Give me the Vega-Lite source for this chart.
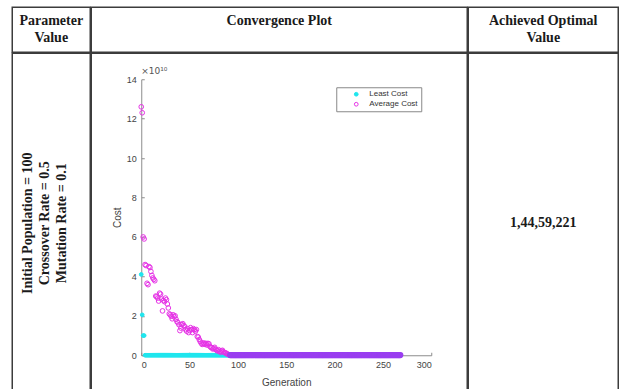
{
"$schema": "https://vega.github.io/schema/vega-lite/v6.json",
"background": "white",
"padding": {"left": 11.25, "top": 6.25, "right": 0, "bottom": 0},
"spacing": -1.5,
"resolve": {"scale": {"fill": "independent", "stroke": "independent"}, "legend": {"fill": "independent", "stroke": "independent"}},
"vconcat": [
{
"spacing": -1.5,
"hconcat": [
{"width": 78, "height": 45, "view": {"style": "cell"}, "data": {"values": [{"t": "Parameter\nValue"}]},
 "mark": {"type": "text", "lineBreak": "\n", "font": "Liberation Serif", "fontSize": 14, "fontWeight": "bold", "lineHeight": 17, "color": "#1a1a1a", "dy": -8.5},
 "encoding": {"text": {"field": "t", "type": "nominal"}}},
{"width": 376, "height": 45, "view": {"style": "cell"}, "data": {"values": [{"t": "Convergence Plot"}]},
 "mark": {"type": "text", "font": "Liberation Serif", "fontSize": 14, "fontWeight": "bold", "color": "#1a1a1a", "dy": -8.5},
 "encoding": {"text": {"field": "t", "type": "nominal"}}},
{"width": 150, "height": 45, "view": {"style": "cell"}, "data": {"values": [{"t": "Achieved Optimal\nValue"}]},
 "mark": {"type": "text", "lineBreak": "\n", "font": "Liberation Serif", "fontSize": 14, "fontWeight": "bold", "lineHeight": 17, "color": "#1a1a1a", "dy": -8.5},
 "encoding": {"text": {"field": "t", "type": "nominal"}}}
]
},
{
"spacing": -1.5,
"resolve": {"scale": {"fill": "independent", "stroke": "independent"}, "legend": {"fill": "independent", "stroke": "independent"}},
"hconcat": [
{"width": 78, "height": 340, "view": {"style": "cell"}, "data": {"values": [{"t": "Initial Population = 100\nCrossover Rate = 0.5\nMutation Rate = 0.1"}]},
 "mark": {"type": "text", "lineBreak": "\n", "font": "Liberation Serif", "fontSize": 14, "fontWeight": "bold", "lineHeight": 17, "angle": 270, "dy": -23, "color": "#1a1a1a"},
 "encoding": {"text": {"field": "t", "type": "nominal"}}},
{"width": 376, "height": 340,
 "title": {"text": "×10¹⁰", "anchor": "start", "frame": "group", "dx": 50, "offset": -23, "fontSize": 9, "fontWeight": "normal", "font": "DejaVu Sans", "color": "#555555"},
 "data": {"values": [
{"g":0,"l":4.1,"a":12.6},{"g":1,"l":2.05,"a":12.3},{"g":2,"l":1.0,"a":6.0},{"g":3,"l":1.0,"a":5.9},{"g":4,"l":0.0015,"a":4.6},
{"g":5,"l":0.0015,"a":4.55},{"g":6,"l":0.0015,"a":3.65},{"g":7,"l":0.0015,"a":3.58},{"g":8,"l":0.0015,"a":4.5},{"g":9,"l":0.0015,"a":4.45},
{"g":10,"l":0.0015,"a":4.25},{"g":11,"l":0.0015,"a":4.05},{"g":12,"l":0.0015,"a":3.92},{"g":13,"l":0.0015,"a":3.85},{"g":14,"l":0.0015,"a":3.78},
{"g":15,"l":0.0015,"a":3.0},{"g":16,"l":0.0015,"a":2.97},{"g":17,"l":0.0015,"a":2.9},{"g":18,"l":0.0015,"a":2.75},{"g":19,"l":0.0015,"a":3.15},
{"g":20,"l":0.0015,"a":3.1},{"g":21,"l":0.0015,"a":2.85},{"g":22,"l":0.0015,"a":2.25},{"g":23,"l":0.0015,"a":2.78},{"g":24,"l":0.0015,"a":2.72},
{"g":25,"l":0.0015,"a":2.9},{"g":26,"l":0.0015,"a":2.82},{"g":27,"l":0.0015,"a":2.6},{"g":28,"l":0.0015,"a":2.4},{"g":29,"l":0.0015,"a":2.1},
{"g":30,"l":0.0015,"a":2.05},{"g":31,"l":0.0015,"a":1.98},{"g":32,"l":0.0015,"a":1.85},{"g":33,"l":0.0015,"a":2.05},{"g":34,"l":0.0015,"a":1.95},
{"g":35,"l":0.0015,"a":2.0},{"g":36,"l":0.0015,"a":1.82},{"g":37,"l":0.0015,"a":1.7},{"g":38,"l":0.0015,"a":1.65},{"g":39,"l":0.0015,"a":1.55},
{"g":40,"l":0.0015,"a":1.25},{"g":41,"l":0.0015,"a":1.38},{"g":42,"l":0.0015,"a":1.55},{"g":43,"l":0.0015,"a":1.6},{"g":44,"l":0.0015,"a":1.5},
{"g":45,"l":0.0015,"a":1.45},{"g":46,"l":0.0015,"a":1.3},{"g":47,"l":0.0015,"a":1.22},{"g":48,"l":0.0015,"a":1.35},{"g":49,"l":0.0015,"a":1.15},
{"g":50,"l":0.0015,"a":1.25},{"g":51,"l":0.0015,"a":1.4},{"g":52,"l":0.0015,"a":1.3},{"g":53,"l":0.0015,"a":1.15},{"g":54,"l":0.0015,"a":1.35},
{"g":55,"l":0.0015,"a":1.3},{"g":56,"l":0.0015,"a":1.22},{"g":57,"l":0.0015,"a":1.3},{"g":58,"l":0.0015,"a":0.95},{"g":59,"l":0.0015,"a":0.92},
{"g":60,"l":0.0015,"a":0.8},{"g":61,"l":0.0015,"a":0.7},{"g":62,"l":0.0015,"a":0.62},{"g":63,"l":0.0015,"a":0.55},{"g":64,"l":0.0015,"a":0.6},
{"g":65,"l":0.0015,"a":0.62},{"g":66,"l":0.0015,"a":0.55},{"g":67,"l":0.0015,"a":0.6},{"g":68,"l":0.0015,"a":0.52},{"g":69,"l":0.0015,"a":0.6},
{"g":70,"l":0.0015,"a":0.58},{"g":71,"l":0.0015,"a":0.45},{"g":72,"l":0.0015,"a":0.4},{"g":73,"l":0.0015,"a":0.38},{"g":74,"l":0.0015,"a":0.32},
{"g":75,"l":0.0015,"a":0.35},{"g":76,"l":0.0015,"a":0.4},{"g":77,"l":0.0015,"a":0.3},{"g":78,"l":0.0015,"a":0.25},{"g":79,"l":0.0015,"a":0.22},
{"g":80,"l":0.0015,"a":0.28},{"g":81,"l":0.0015,"a":0.2},{"g":82,"l":0.0015,"a":0.15},{"g":83,"l":0.0015,"a":0.22},{"g":84,"l":0.0015,"a":0.25},
{"g":85,"l":0.0015,"a":0.18},{"g":86,"l":0.0015,"a":0.14},{"g":87,"l":0.0015,"a":0.12},{"g":88,"l":0.0015,"a":0.1},{"g":89,"l":0.0015,"a":0.06},
{"g":90,"l":0.0015,"a":0.04},{"g":91,"l":0.0015,"a":0.02},
{"g":92,"l":0.0015,"a":0.01},{"g":93,"l":0.0015,"a":0.01},{"g":94,"l":0.0015,"a":0.01},{"g":95,"l":0.0015,"a":0.01},{"g":96,"l":0.0015,"a":0.01},
{"g":97,"l":0.0015,"a":0.01},{"g":98,"l":0.0015,"a":0.01},{"g":99,"l":0.0015,"a":0.01},{"g":100,"l":0.0015,"a":0.01},{"g":101,"l":0.0015,"a":0.01},
{"g":102,"l":0.0015,"a":0.01},{"g":103,"l":0.0015,"a":0.01},{"g":104,"l":0.0015,"a":0.01},{"g":105,"l":0.0015,"a":0.01},{"g":106,"l":0.0015,"a":0.01},
{"g":107,"l":0.0015,"a":0.01},{"g":108,"l":0.0015,"a":0.01},{"g":109,"l":0.0015,"a":0.01},{"g":110,"l":0.0015,"a":0.01},{"g":111,"l":0.0015,"a":0.01},
{"g":112,"l":0.0015,"a":0.01},{"g":113,"l":0.0015,"a":0.01},{"g":114,"l":0.0015,"a":0.01},{"g":115,"l":0.0015,"a":0.01},{"g":116,"l":0.0015,"a":0.01},
{"g":117,"l":0.0015,"a":0.01},{"g":118,"l":0.0015,"a":0.01},{"g":119,"l":0.0015,"a":0.01},{"g":120,"l":0.0015,"a":0.01},{"g":121,"l":0.0015,"a":0.01},
{"g":122,"l":0.0015,"a":0.01},{"g":123,"l":0.0015,"a":0.01},{"g":124,"l":0.0015,"a":0.01},{"g":125,"l":0.0015,"a":0.01},{"g":126,"l":0.0015,"a":0.01},
{"g":127,"l":0.0015,"a":0.01},{"g":128,"l":0.0015,"a":0.01},{"g":129,"l":0.0015,"a":0.01},{"g":130,"l":0.0015,"a":0.01},{"g":131,"l":0.0015,"a":0.01},
{"g":132,"l":0.0015,"a":0.01},{"g":133,"l":0.0015,"a":0.01},{"g":134,"l":0.0015,"a":0.01},{"g":135,"l":0.0015,"a":0.01},{"g":136,"l":0.0015,"a":0.01},
{"g":137,"l":0.0015,"a":0.01},{"g":138,"l":0.0015,"a":0.01},{"g":139,"l":0.0015,"a":0.01},{"g":140,"l":0.0015,"a":0.01},{"g":141,"l":0.0015,"a":0.01},
{"g":142,"l":0.0015,"a":0.01},{"g":143,"l":0.0015,"a":0.01},{"g":144,"l":0.0015,"a":0.01},{"g":145,"l":0.0015,"a":0.01},{"g":146,"l":0.0015,"a":0.01},
{"g":147,"l":0.0015,"a":0.01},{"g":148,"l":0.0015,"a":0.01},{"g":149,"l":0.0015,"a":0.01},{"g":150,"l":0.0015,"a":0.01},{"g":151,"l":0.0015,"a":0.01},
{"g":152,"l":0.0015,"a":0.01},{"g":153,"l":0.0015,"a":0.01},{"g":154,"l":0.0015,"a":0.01},{"g":155,"l":0.0015,"a":0.01},{"g":156,"l":0.0015,"a":0.01},
{"g":157,"l":0.0015,"a":0.01},{"g":158,"l":0.0015,"a":0.01},{"g":159,"l":0.0015,"a":0.01},{"g":160,"l":0.0015,"a":0.01},{"g":161,"l":0.0015,"a":0.01},
{"g":162,"l":0.0015,"a":0.01},{"g":163,"l":0.0015,"a":0.01},{"g":164,"l":0.0015,"a":0.01},{"g":165,"l":0.0015,"a":0.01},{"g":166,"l":0.0015,"a":0.01},
{"g":167,"l":0.0015,"a":0.01},{"g":168,"l":0.0015,"a":0.01},{"g":169,"l":0.0015,"a":0.01},{"g":170,"l":0.0015,"a":0.01},{"g":171,"l":0.0015,"a":0.01},
{"g":172,"l":0.0015,"a":0.01},{"g":173,"l":0.0015,"a":0.01},{"g":174,"l":0.0015,"a":0.01},{"g":175,"l":0.0015,"a":0.01},{"g":176,"l":0.0015,"a":0.01},
{"g":177,"l":0.0015,"a":0.01},{"g":178,"l":0.0015,"a":0.01},{"g":179,"l":0.0015,"a":0.01},{"g":180,"l":0.0015,"a":0.01},{"g":181,"l":0.0015,"a":0.01},
{"g":182,"l":0.0015,"a":0.01},{"g":183,"l":0.0015,"a":0.01},{"g":184,"l":0.0015,"a":0.01},{"g":185,"l":0.0015,"a":0.01},{"g":186,"l":0.0015,"a":0.01},
{"g":187,"l":0.0015,"a":0.01},{"g":188,"l":0.0015,"a":0.01},{"g":189,"l":0.0015,"a":0.01},{"g":190,"l":0.0015,"a":0.01},{"g":191,"l":0.0015,"a":0.01},
{"g":192,"l":0.0015,"a":0.01},{"g":193,"l":0.0015,"a":0.01},{"g":194,"l":0.0015,"a":0.01},{"g":195,"l":0.0015,"a":0.01},{"g":196,"l":0.0015,"a":0.01},
{"g":197,"l":0.0015,"a":0.01},{"g":198,"l":0.0015,"a":0.01},{"g":199,"l":0.0015,"a":0.01},{"g":200,"l":0.0015,"a":0.01},{"g":201,"l":0.0015,"a":0.01},
{"g":202,"l":0.0015,"a":0.01},{"g":203,"l":0.0015,"a":0.01},{"g":204,"l":0.0015,"a":0.01},{"g":205,"l":0.0015,"a":0.01},{"g":206,"l":0.0015,"a":0.01},
{"g":207,"l":0.0015,"a":0.01},{"g":208,"l":0.0015,"a":0.01},{"g":209,"l":0.0015,"a":0.01},{"g":210,"l":0.0015,"a":0.01},{"g":211,"l":0.0015,"a":0.01},
{"g":212,"l":0.0015,"a":0.01},{"g":213,"l":0.0015,"a":0.01},{"g":214,"l":0.0015,"a":0.01},{"g":215,"l":0.0015,"a":0.01},{"g":216,"l":0.0015,"a":0.01},
{"g":217,"l":0.0015,"a":0.01},{"g":218,"l":0.0015,"a":0.01},{"g":219,"l":0.0015,"a":0.01},{"g":220,"l":0.0015,"a":0.01},{"g":221,"l":0.0015,"a":0.01},
{"g":222,"l":0.0015,"a":0.01},{"g":223,"l":0.0015,"a":0.01},{"g":224,"l":0.0015,"a":0.01},{"g":225,"l":0.0015,"a":0.01},{"g":226,"l":0.0015,"a":0.01},
{"g":227,"l":0.0015,"a":0.01},{"g":228,"l":0.0015,"a":0.01},{"g":229,"l":0.0015,"a":0.01},{"g":230,"l":0.0015,"a":0.01},{"g":231,"l":0.0015,"a":0.01},
{"g":232,"l":0.0015,"a":0.01},{"g":233,"l":0.0015,"a":0.01},{"g":234,"l":0.0015,"a":0.01},{"g":235,"l":0.0015,"a":0.01},{"g":236,"l":0.0015,"a":0.01},
{"g":237,"l":0.0015,"a":0.01},{"g":238,"l":0.0015,"a":0.01},{"g":239,"l":0.0015,"a":0.01},{"g":240,"l":0.0015,"a":0.01},{"g":241,"l":0.0015,"a":0.01},
{"g":242,"l":0.0015,"a":0.01},{"g":243,"l":0.0015,"a":0.01},{"g":244,"l":0.0015,"a":0.01},{"g":245,"l":0.0015,"a":0.01},{"g":246,"l":0.0015,"a":0.01},
{"g":247,"l":0.0015,"a":0.01},{"g":248,"l":0.0015,"a":0.01},{"g":249,"l":0.0015,"a":0.01},{"g":250,"l":0.0015,"a":0.01},{"g":251,"l":0.0015,"a":0.01},
{"g":252,"l":0.0015,"a":0.01},{"g":253,"l":0.0015,"a":0.01},{"g":254,"l":0.0015,"a":0.01},{"g":255,"l":0.0015,"a":0.01},{"g":256,"l":0.0015,"a":0.01},
{"g":257,"l":0.0015,"a":0.01},{"g":258,"l":0.0015,"a":0.01},{"g":259,"l":0.0015,"a":0.01},{"g":260,"l":0.0015,"a":0.01},{"g":261,"l":0.0015,"a":0.01},
{"g":262,"l":0.0015,"a":0.01},{"g":263,"l":0.0015,"a":0.01},{"g":264,"l":0.0015,"a":0.01},{"g":265,"l":0.0015,"a":0.01},{"g":266,"l":0.0015,"a":0.01},
{"g":267,"l":0.0015,"a":0.01},{"g":268,"l":0.0015,"a":0.01}
 ]},
 "layer": [
  {"mark": {"type": "point", "size": 14, "strokeWidth": 1, "opacity": 1},
   "encoding": {
    "x": {"field": "g", "type": "quantitative", "title": "Generation", "scale": {"domain": [0, 300], "range": [50, 340], "nice": false}, "axis": {"values": [0, 50, 100, 150, 200, 250, 300]}},
    "y": {"field": "l", "type": "quantitative", "title": "Cost", "scale": {"domain": [0, 14], "range": [302, 26], "nice": false}, "axis": {"values": [0, 2, 4, 6, 8, 10, 12, 14]}},
    "fill": {"datum": "Least Cost", "type": "nominal", "scale": {"domain": ["Least Cost", "Average Cost"], "range": ["#1fe6ee", "transparent"]}, "legend": {"title": null}},
    "stroke": {"datum": "Least Cost", "type": "nominal", "scale": {"domain": ["Least Cost", "Average Cost"], "range": ["#1fe6ee", "#e633e6"]}, "legend": {"title": null}}
   }},
  {"transform": [{"filter": "datum.g < 92"}],
   "mark": {"type": "point", "size": 22, "strokeWidth": 1, "opacity": 1},
   "encoding": {
    "x": {"field": "g", "type": "quantitative", "title": "Generation"},
    "y": {"field": "a", "type": "quantitative", "title": "Cost"},
    "fill": {"datum": "Average Cost", "type": "nominal", "legend": {"title": null}},
    "stroke": {"datum": "Average Cost", "type": "nominal", "legend": {"title": null}}
   }},
  {"transform": [{"filter": "datum.g >= 92"}],
   "mark": {"type": "point", "size": 22, "strokeWidth": 1.5, "opacity": 1, "filled": false, "color": "#9a3ef0"},
   "encoding": {
    "x": {"field": "g", "type": "quantitative", "title": "Generation"},
    "y": {"field": "a", "type": "quantitative", "title": "Cost"}
   }}
 ]
},
{"width": 150, "height": 340, "view": {"style": "cell"}, "data": {"values": [{"t": "1,44,59,221"}]},
 "mark": {"type": "text", "font": "Liberation Serif", "fontSize": 14, "fontWeight": "bold", "color": "#1a1a1a"},
 "encoding": {"text": {"field": "t", "type": "nominal"}}}
]
}
],
"config": {
 "view": {"stroke": "#3c3c3c", "strokeWidth": 1.5},
 "axis": {"domainColor": "#8c8c8c", "tickColor": "#8c8c8c", "labelColor": "#444444", "titleColor": "#444444", "labelFont": "Liberation Sans", "titleFont": "Liberation Sans", "labelFontSize": 9, "titleFontSize": 10, "titleFontWeight": "normal", "grid": false, "tickSize": -3, "domainWidth": 1},
 "axisY": {"offset": -50, "labelPadding": 8, "titlePadding": 4},
 "axisX": {"offset": -38, "labelPadding": 8, "titlePadding": 8},
 "legend": {"orient": "none", "legendX": 245, "legendY": 34, "strokeColor": "#888888", "padding": 3, "labelFont": "Liberation Sans", "labelFontSize": 8, "labelColor": "#333333", "symbolSize": 14, "symbolOffset": 13, "labelOffset": 9, "rowPadding": 2, "symbolStrokeWidth": 1}
}
}
